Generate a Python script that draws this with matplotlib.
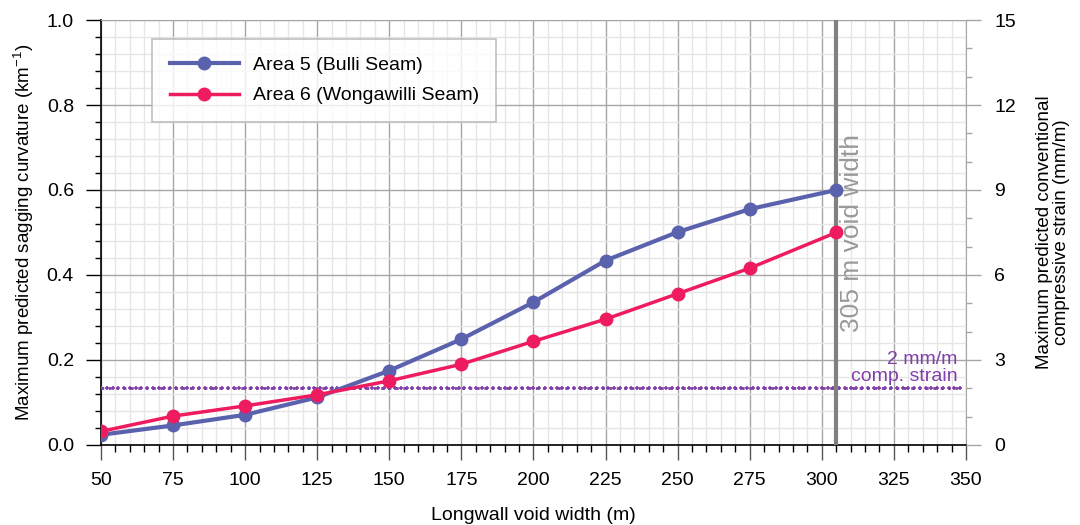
import numpy as np
import matplotlib
matplotlib.use("Agg")
import matplotlib.pyplot as plt
from matplotlib.ticker import MultipleLocator, FormatStrFormatter

plt.rcParams['font.family'] = ['Liberation Sans', 'DejaVu Sans']

# longwall void widths (m) and predicted sagging curvatures (1/km)
widths = [50, 75, 100, 125, 150, 175, 200, 225, 250, 275, 305]
area5 = [0.024, 0.046, 0.071, 0.112, 0.175, 0.249, 0.336, 0.434, 0.501, 0.555, 0.600]
area6 = [0.032, 0.068, 0.092, 0.118, 0.151, 0.190, 0.244, 0.296, 0.356, 0.416, 0.500]

strain_limit = 2.0      # mm/m
strain_max = 15.0       # right axis top
void_width = 305

fig = plt.figure(figsize=(10.8, 5.25), dpi=100)
ax = fig.add_axes([0.0935, 0.1524, 0.8009, 0.8095])

ax.set_xlim(50, 350)
ax.set_ylim(0, 1.0)
ax.xaxis.set_major_locator(MultipleLocator(25))
ax.xaxis.set_minor_locator(MultipleLocator(5))
ax.yaxis.set_major_locator(MultipleLocator(0.2))
ax.yaxis.set_minor_locator(MultipleLocator(0.04))
ax.yaxis.set_major_formatter(FormatStrFormatter('%.1f'))

ax.grid(which='minor', color='#e6e6e6', lw=1.0, zorder=0)
ax.grid(which='major', color='#a6a6a6', lw=1.0, zorder=0)
ax.set_axisbelow(True)

for s in ['top', 'right']:
    ax.spines[s].set_color('#a6a6a6')
for s in ['left', 'bottom']:
    ax.spines[s].set_color('black')
    ax.spines[s].set_linewidth(1.2)

ax.tick_params(axis='x', which='major', length=10.5, width=1.0, color='#555555', labelsize=14, pad=9)
ax.tick_params(axis='x', which='minor', length=5, width=1.0, color='black')
ax.tick_params(axis='y', which='major', length=10.5, width=1.0, color='black', labelsize=14, pad=9)
ax.tick_params(axis='y', which='minor', length=4.5, width=1.0, color='black')

# 2 mm/m compressive strain threshold expressed in curvature units
lim = strain_limit / strain_max
xs = np.arange(50, 349, 2)
ax.plot(xs, np.full(len(xs), lim), color='#8040a8', lw=2, ls=':',
        marker='+', ms=3, mew=1.2, zorder=3)
ax.text(347, lim + 0.008, '2 mm/m\ncomp. strain', color='#8040a8',
        fontsize=14, ha='right', va='bottom', linespacing=1.0)

# current void width marker
ax.axvline(void_width, color='#808080', lw=3, zorder=4)
ax.text(void_width + 1.2, 0.267, '305 m void width', color='#999999',
        fontsize=19, rotation=90, ha='left', va='bottom')

ax.plot(widths, area5, color='#5b62ad', lw=3, marker='o', ms=9,
        label='Area 5 (Bulli Seam)', zorder=5)
ax.plot(widths, area6, color='#ee1c5e', lw=2.5, marker='o', ms=9,
        label='Area 6 (Wongawilli Seam)', zorder=6)

leg = ax.legend(loc='upper left', bbox_to_anchor=(0.059, 0.955), fontsize=14,
                frameon=True, fancybox=False, edgecolor='#b0b0b0',
                borderpad=0.9, handlelength=3.55, labelspacing=0.65,
                handletextpad=0.72, borderaxespad=0)
leg.get_frame().set_linewidth(1.2)

ax.set_xlabel('Longwall void width (m)', fontsize=14, labelpad=13)
ax.set_ylabel('Maximum predicted sagging curvature (km$^{\\mathregular{-1}}$)',
              fontsize=13.5, labelpad=8)

ax2 = ax.twinx()
ax2.set_ylim(0, strain_max)
ax2.yaxis.set_major_locator(MultipleLocator(3))
ax2.yaxis.set_minor_locator(MultipleLocator(1))
ax2.tick_params(axis='y', which='major', length=10.5, width=1.0, color='#a6a6a6',
                labelsize=14, pad=10)
ax2.tick_params(axis='y', which='minor', length=4, width=1.0, color='#a6a6a6')
for s in ax2.spines.values():
    s.set_visible(False)
ax2.set_ylabel('Maximum predicted conventional\ncompressive strain (mm/m)',
               fontsize=13.5, labelpad=14, linespacing=1.0)

fig.savefig('out.png', dpi=100)
